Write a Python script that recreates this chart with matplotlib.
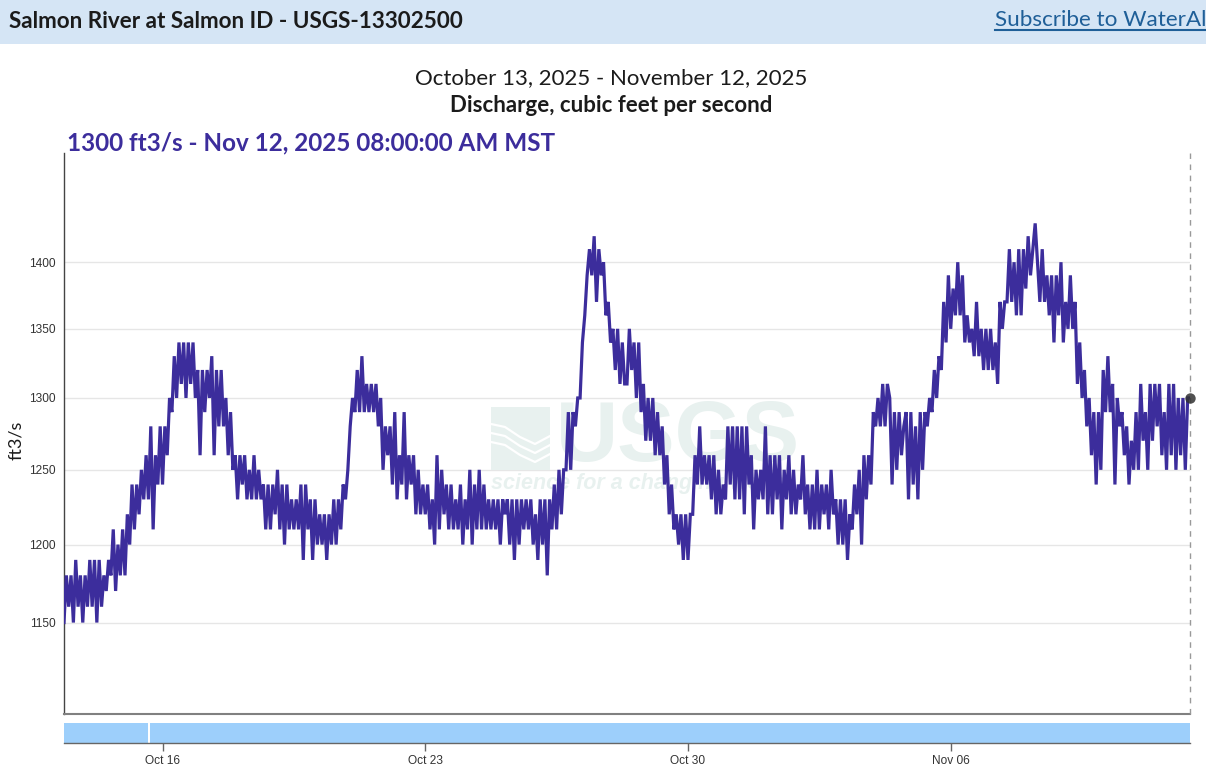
"""
Salmon River discharge, 30 day instantaneous values (USGS-13302500)
"""

from datetime import datetime
import matplotlib
matplotlib.use('Agg')
import matplotlib.pyplot as plt
from matplotlib.lines import Line2D
from matplotlib.patches import Rectangle, Polygon
import pandas as pd

W, H = 1206, 770

# one row per day, 30 days, last value is the latest reading
discharge = [
    1150, 1180, 1160, 1180, 1150, 1190, 1160, 1180, 1150, 1180, 1160, 1190, 1160, 1190, 1150, 1190,
    1160, 1180, 1170, 1190, 1180, 1210, 1170, 1200, 1180, 1210, 1180, 1220, 1200, 1240, 1210, 1240,
    1220, 1250, 1230, 1260, 1230, 1280, 1210, 1260, 1240, 1280, 1240, 1280, 1260, 1300, 1290, 1330,
    1300, 1340, 1310, 1340, 1300, 1340, 1310, 1340, 1300, 1320, 1260, 1320, 1290, 1320, 1300, 1330,
    1260, 1320, 1280, 1320, 1280, 1300, 1260, 1290, 1250, 1260, 1230, 1260, 1240, 1260, 1230, 1250,
    1230, 1260, 1230, 1250, 1230, 1240, 1210, 1240, 1210, 1240, 1220, 1250, 1210, 1240, 1200, 1240,
    1210, 1230, 1210, 1230, 1210, 1240, 1190, 1240, 1210, 1230, 1190, 1230, 1200, 1220, 1200, 1220,
    1190, 1220, 1200, 1230, 1200, 1230, 1210, 1240, 1230, 1250, 1280, 1300, 1290, 1320, 1290, 1330,
    1290, 1310, 1290, 1310, 1290, 1310, 1280, 1300, 1250, 1280, 1260, 1280, 1240, 1290, 1230, 1260,
    1240, 1290, 1230, 1260, 1240, 1260, 1220, 1250, 1220, 1240, 1220, 1240, 1210, 1230, 1200, 1260,
    1210, 1250, 1220, 1240, 1210, 1240, 1210, 1230, 1210, 1240, 1200, 1230, 1210, 1250, 1200, 1240,
    1210, 1250, 1210, 1240, 1210, 1230, 1210, 1230, 1210, 1230, 1200, 1230, 1220, 1230, 1200, 1230,
    1190, 1230, 1200, 1230, 1210, 1230, 1210, 1230, 1200, 1220, 1190, 1230, 1200, 1230, 1180, 1230,
    1210, 1240, 1210, 1250, 1220, 1250, 1250, 1290, 1250, 1290, 1280, 1300, 1300, 1340, 1360, 1390,
    1410, 1390, 1420, 1370, 1410, 1390, 1400, 1360, 1370, 1340, 1350, 1320, 1350, 1310, 1340, 1310,
    1310, 1350, 1320, 1340, 1300, 1340, 1290, 1310, 1270, 1300, 1270, 1300, 1260, 1290, 1260, 1280,
    1240, 1260, 1220, 1240, 1210, 1220, 1200, 1220, 1190, 1220, 1190, 1220, 1220, 1260, 1240, 1280,
    1240, 1260, 1240, 1260, 1230, 1260, 1220, 1250, 1220, 1240, 1230, 1280, 1240, 1280, 1230, 1280,
    1230, 1280, 1220, 1280, 1240, 1260, 1210, 1250, 1230, 1250, 1230, 1280, 1220, 1260, 1220, 1260,
    1230, 1260, 1210, 1250, 1230, 1260, 1220, 1250, 1220, 1240, 1230, 1260, 1220, 1240, 1210, 1240,
    1210, 1250, 1210, 1240, 1220, 1240, 1210, 1250, 1220, 1230, 1200, 1230, 1200, 1230, 1190, 1220,
    1210, 1240, 1220, 1250, 1200, 1260, 1230, 1260, 1240, 1290, 1280, 1300, 1280, 1310, 1280, 1310,
    1300, 1240, 1290, 1250, 1290, 1260, 1280, 1290, 1230, 1290, 1240, 1280, 1230, 1290, 1250, 1290,
    1280, 1300, 1290, 1320, 1300, 1330, 1320, 1370, 1340, 1390, 1350, 1380, 1360, 1400, 1360, 1390,
    1340, 1360, 1340, 1350, 1330, 1370, 1330, 1350, 1320, 1350, 1320, 1350, 1320, 1340, 1310, 1370,
    1350, 1370, 1370, 1410, 1370, 1400, 1360, 1410, 1360, 1410, 1380, 1420, 1390, 1410, 1430, 1400,
    1370, 1410, 1370, 1390, 1360, 1390, 1340, 1390, 1360, 1400, 1340, 1370, 1350, 1390, 1350, 1370,
    1310, 1340, 1300, 1320, 1280, 1300, 1260, 1290, 1240, 1290, 1250, 1320, 1290, 1330, 1290, 1310,
    1240, 1300, 1280, 1290, 1260, 1280, 1240, 1270, 1250, 1290, 1250, 1310, 1270, 1290, 1250, 1310,
    1270, 1310, 1280, 1310, 1260, 1290, 1250, 1310, 1260, 1310, 1250, 1300, 1260, 1300, 1250, 1300,
    1300,
]
y_ticks = [1150, 1200, 1250, 1300, 1350, 1400]
x_ticks = [datetime(2025, 10, 16), datetime(2025, 10, 23), datetime(2025, 10, 30), datetime(2025, 11, 6)]
x_tick_labels = ['Oct 16', 'Oct 23', 'Oct 30', 'Nov 06']

# brush strip, small gap in the record near Oct 15
brush_spans = [(datetime(2025, 10, 13, 9), datetime(2025, 10, 15, 14, 30)),
               (datetime(2025, 10, 15, 16), datetime(2025, 11, 12, 9))]

start = datetime(2025, 10, 13, 9)
end = datetime(2025, 11, 12, 9)

LINE_COLOR = '#3c2d9c'
UI_FONT = 'Lato'
AXIS_FONT = 'Liberation Sans'


def ax_rect(left, top, right, bottom):
    """pixel box to figure fractions"""
    return [left / W, 1 - bottom / H, (right - left) / W, (bottom - top) / H]


def fx(x):
    return x / W


def fy(y):
    return 1 - y / H


fig = plt.figure(figsize=(W / 100, H / 100), dpi=100, facecolor='white')

# page header
fig.patches.append(Rectangle((0, fy(43.5)), 1, 43.5 / H, transform=fig.transFigure,
                             facecolor='#d5e5f5', edgecolor='none', zorder=0))
fig.text(fx(9), fy(21), 'Salmon River at Salmon ID - USGS-13302500', fontsize=16.2, fontweight='bold',
         family=UI_FONT, color='#1b1b1b', va='center')
fig.text(fx(995), fy(20), 'Subscribe to WaterAlert', fontsize=16.2, family=UI_FONT, color='#1f5f98', va='center')
fig.add_artist(Line2D([fx(995), 1], [fy(30), fy(30)], color='#1f5f98', lw=1.5))

fig.text(fx(611), fy(78), 'October 13, 2025 - November 12, 2025', fontsize=16, family=UI_FONT,
         color='#1b1b1b', ha='center', va='center')
fig.text(fx(611), fy(105), 'Discharge, cubic feet per second', fontsize=16, fontweight='bold', family=UI_FONT,
         color='#1b1b1b', ha='center', va='center')
fig.text(fx(67), fy(143), '1300 ft3/s - Nov 12, 2025 08:00:00 AM MST', fontsize=17.5, fontweight='bold',
         family=UI_FONT, color=LINE_COLOR, va='center')
fig.text(fx(16), fy(440), 'ft3/s', fontsize=13, family=UI_FONT, color='#1b1b1b', rotation=90,
         ha='center', va='center')

# main chart
ax = fig.add_axes(ax_rect(64, 153, 1190, 714))
times = pd.date_range(start, end, periods=len(discharge))

ax.set_yscale('log')
ax.set_ylim(1094, 1486)
ax.set_xlim(start, end)
ax.set_yticks(y_ticks)
ax.set_yticklabels([str(v) for v in y_ticks], fontsize=8.6, family=AXIS_FONT, color='#333333')
ax.minorticks_off()
ax.tick_params(axis='y', length=0, pad=6)
ax.set_xticks([])
ax.grid(axis='y', color='#e6e6e6', lw=1)
ax.set_axisbelow(True)

for side in ['top', 'right']:
    ax.spines[side].set_visible(False)
ax.spines['left'].set_color('#444444')
ax.spines['left'].set_linewidth(1)
ax.spines['bottom'].set_color('#808080')
ax.spines['bottom'].set_linewidth(1.5)

# watermark sits behind the line
mark = '#e8f1ef'
ax.add_patch(Polygon([(fx(491), fy(407)), (fx(550), fy(407)), (fx(550), fy(470)), (fx(491), fy(470))],
                     closed=True, transform=fig.transFigure, facecolor=mark, edgecolor='none', zorder=1))
for off in [0, 9, 18]:
    ax.add_line(Line2D([fx(491), fx(505), fx(520), fx(535), fx(550)],
                       [fy(424 + off), fy(427 + off), fy(437 + off), fy(444 + off), fy(436 + off)],
                       transform=fig.transFigure, color='white', lw=1.6, zorder=1.1))
ax.text(fx(556), fy(439), 'USGS', transform=fig.transFigure, fontsize=62, fontweight='bold', family=AXIS_FONT,
        color=mark, va='center', ha='left', zorder=1)
ax.text(fx(491), fy(484), 'science for a changing world', transform=fig.transFigure, fontsize=15.5,
        fontweight='bold', fontstyle='italic', family=AXIS_FONT, color=mark, va='center', ha='left', zorder=1)

ax.plot(times, discharge, color=LINE_COLOR, lw=2.3, solid_joinstyle='miter', zorder=3)
ax.axvline(end, color='#999999', lw=1, dashes=(4, 4), clip_on=False, zorder=3)
ax.plot([times[-1]], [discharge[-1]], 'o', color='#333333', alpha=0.85, ms=7.5, mew=0, clip_on=False, zorder=4)

# brush strip with date axis under it
brush = fig.add_axes(ax_rect(64, 720, 1190, 743))
brush.set_xlim(start, end)
brush.set_ylim(0, 23)
for a, b in brush_spans:
    brush.barh(10, b - a, left=a, height=20, color='#9dcffb', edgecolor='none', align='center')
brush.set_yticks([])
brush.set_xticks(x_ticks)
brush.set_xticklabels(x_tick_labels, fontsize=8.6, family=AXIS_FONT, color='#333333')
brush.tick_params(axis='x', length=6, width=1, color='#666666', pad=3)
for side in ['top', 'left', 'right']:
    brush.spines[side].set_visible(False)
brush.spines['bottom'].set_color('#666666')
brush.spines['bottom'].set_linewidth(1)

fig.savefig('out.png', dpi=100)
